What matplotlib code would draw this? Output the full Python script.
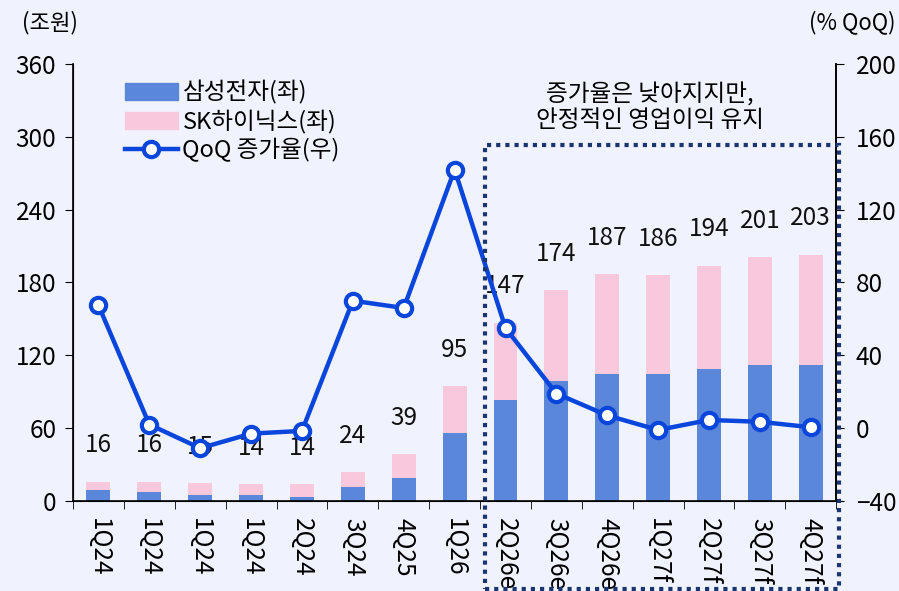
import matplotlib
matplotlib.use("Agg")
import matplotlib.pyplot as plt
import matplotlib.transforms as mtransforms
from matplotlib.lines import Line2D
from matplotlib.patches import Patch, Rectangle
import numpy as np

plt.rcParams["font.family"] = ["Noto Sans CJK KR", "DejaVu Sans"]

# 데이터 (조원, % QoQ)
quarters = ["1Q24", "1Q24", "1Q24", "1Q24", "2Q24", "3Q24", "4Q25", "1Q26",
            "2Q26e", "3Q26e", "4Q26e", "1Q27f", "2Q27f", "3Q27f", "4Q27f"]
total = [16, 16, 15, 14, 14, 24, 39, 95, 147, 174, 187, 186, 194, 201, 203]
samsung = [9, 7.5, 5, 5, 3, 11.5, 19, 56, 83, 99, 105, 105, 109, 112, 112]
hynix = [t - s for t, s in zip(total, samsung)]
qoq = [67.5, 2, -11, -3, -1.5, 70, 66, 142, 55, 19, 7, -1, 4.5, 3.5, 0.5]

BG = "#F0F3FE"
C_SS = "#5B87DA"
C_SK = "#F8C8DC"
C_LINE = "#0A46DC"
C_BOX = "#1B3570"

fig = plt.figure(figsize=(8.99, 5.91), dpi=100, facecolor=BG)
ax = fig.add_axes([0.0812, 0.1523, 0.849, 0.7394])
ax.set_facecolor(BG)
x = np.arange(len(quarters))

ax.bar(x, samsung, width=0.47, color=C_SS, zorder=2)
ax.bar(x, hynix, width=0.47, bottom=samsung, color=C_SK, zorder=2)
for xi, t in zip(x, total):
    ax.annotate(f"{t}", (xi, t), xytext=(0, 26), textcoords="offset points",
                ha="center", va="center", fontsize=17.5, color="#111111")

ax.set_xlim(-0.5, len(quarters) - 0.5)
ax.set_ylim(0, 360)
ax.set_yticks(np.arange(0, 361, 60))
ax.set_xticks(x)
ax.set_xticklabels(quarters, rotation=-90, fontsize=17.5)
ax.set_xticks(np.arange(-0.5, len(quarters), 1), minor=True)
ax.tick_params(axis="x", which="major", length=0, pad=12)
ax.tick_params(axis="x", which="minor", length=6, direction="out")
ax.tick_params(axis="y", labelsize=17.5, length=6, direction="out", pad=6)
ax.spines["top"].set_visible(False)
for s in ["left", "bottom", "right"]:
    ax.spines[s].set_linewidth(1.2)

ax2 = ax.twinx()
ax2.plot(x, qoq, color=C_LINE, lw=3.2, marker="o", ms=11,
         mfc="white", mec=C_LINE, mew=3, zorder=5)
ax2.set_ylim(-40, 200)
ax2.set_yticks(np.arange(-40, 201, 40))
ax2.tick_params(axis="y", labelsize=17.5, length=6, direction="out", pad=8)
ax2.spines["top"].set_visible(False)
ax2.spines["right"].set_linewidth(1.2)

fig.text(0.024, 0.962, "(조원)", fontsize=16, ha="left", va="center")
fig.text(0.996, 0.962, "(% QoQ)", fontsize=16, ha="right", va="center")

handles = [Patch(color=C_SS), Patch(color=C_SK),
           Line2D([], [], color=C_LINE, lw=3.2, marker="o", ms=11,
                  mfc="white", mec=C_LINE, mew=3)]
labels = ["삼성전자(좌)", "SK하이닉스(좌)", "QoQ 증가율(우)"]
ax2.legend(handles, labels, loc="upper left", bbox_to_anchor=(0.046, 1.0),
           frameon=False, fontsize=17, handlelength=2.25, handleheight=0.72,
           handletextpad=0.2, labelspacing=0.2, borderaxespad=0.3)

# 점선 박스 + 설명
trans = mtransforms.blended_transform_factory(ax.transData, fig.transFigure)
box = Rectangle((7.6, 0.004), 6.95, 0.75, transform=trans, fill=False,
                ec=C_BOX, lw=3, ls=(0, (1, 1.2)), clip_on=False, zorder=6)
fig.add_artist(box)
ax.text(10.84, 0.819, "증가율은 낮아지지만,\n안정적인 영업이익 유지",
        transform=trans, ha="center", va="center", fontsize=17,
        linespacing=1.15)

fig.savefig("out.png", dpi=100, facecolor=BG)
